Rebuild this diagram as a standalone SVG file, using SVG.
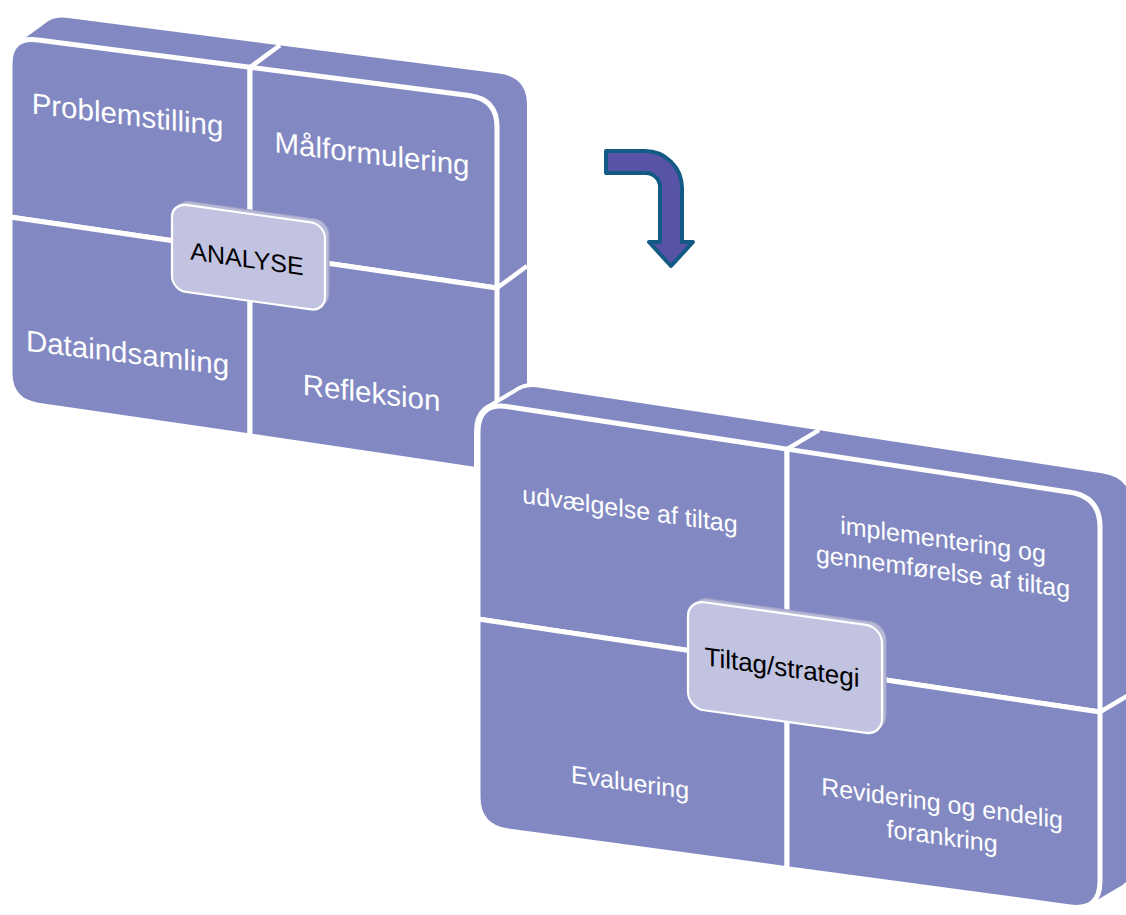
<svg xmlns="http://www.w3.org/2000/svg" xmlns:xlink="http://www.w3.org/1999/xlink" width="1126" height="915" viewBox="0 0 1126 915">
<style>
.ext{fill:#8289C2}
.face{fill:#8289C2;stroke:#fff;stroke-width:5;stroke-linejoin:round}
.div{stroke:#fff;stroke-width:4.5;fill:none}
.halo{fill:#fff;stroke:#fff;stroke-width:8;stroke-linejoin:round}
.lbl{font-family:"Liberation Sans",Arial,sans-serif;fill:#fff;text-anchor:middle}
.l28{font-size:29.5px}
.l25{font-size:25px}
.cback{fill:#B7B9D8;stroke:#9FA1C4;stroke-width:1.2}
.cfront{fill:#C1C3E0;stroke:#fff;stroke-width:2.2}
.ctxt{font-family:"Liberation Sans",Arial,sans-serif;fill:#000;text-anchor:middle}
</style>
<defs>
<path id="lOut" d="M 10,64 Q 10,36.3 38,39.9 L 469,95.5 Q 497,99.1 497,127 L 497,445 Q 497,472.6 469,468.5 L 38,405.1 Q 10,401 10,373 Z"/>
<path id="rOut" d="M 478,432 Q 478,402.2 508,406.7 L 1070,492.2 Q 1100,496.7 1100,527 L 1100,881 Q 1100,911 1070,906.9 L 508,831 Q 478,827 478,797 Z"/>
</defs>

<g id="panel-analyse">
  <g id="analyse-extrusion">
    <use xlink:href="#lOut" href="#lOut" class="ext" transform="translate(30,-22)"/>
    <polygon class="ext" points="18,43.3 48,21.3 519,443.2 489,465.2"/>
    <line class="div" x1="250" y1="67.3" x2="280" y2="45.3"/>
    <line class="div" x1="497" y1="288" x2="527" y2="266"/>
  </g>
  <g id="q-problemstilling">
    <path class="face" d="M 10,64 Q 10,36.3 38,39.9 L 250,67.3 L 250,252 L 10,217 Z"/>
    <g transform="matrix(1,0.12,0,1,127.5,125)"><text class="lbl l28" x="0" y="0">Problemstilling</text></g>
  </g>
  <g id="q-maalformulering">
    <path class="face" d="M 250,67.3 L 469,95.5 Q 497,99.1 497,127 L 497,288 L 250,252 Z"/>
    <g transform="matrix(1,0.12,0,1,372,164)"><text class="lbl l28" x="0" y="0">Målformulering</text></g>
  </g>
  <g id="q-dataindsamling">
    <path class="face" d="M 10,217 L 250,252 L 250,436 L 38,405.1 Q 10,401 10,373 Z"/>
    <g transform="matrix(1,0.12,0,1,127.5,363)"><text class="lbl l28" x="0" y="0">Dataindsamling</text></g>
  </g>
  <g id="q-refleksion">
    <path class="face" d="M 250,252 L 497,288 L 497,445 Q 497,472.6 469,468.5 L 250,436 Z"/>
    <g transform="matrix(1,0.12,0,1,371.5,403)"><text class="lbl l28" x="0" y="0">Refleksion</text></g>
  </g>
  <g id="c-analyse" transform="matrix(1,0.14,0,1,172,203)">
    <rect class="cback" x="4" y="-4" width="153" height="87" rx="14"/>
    <rect class="cfront" x="0" y="0" width="153" height="87" rx="14"/>
    <text class="ctxt" font-size="25" x="75" y="54">ANALYSE</text>
  </g>
</g>

<g id="panel-tiltag">
  <g id="tiltag-extrusion">
    <use xlink:href="#rOut" href="#rOut" class="halo" transform="translate(32,-19)"/>
    <polygon class="halo" points="487.8,409.1 519.8,390.1 1122,885.2 1090,904.2"/>
    <use xlink:href="#rOut" href="#rOut" class="halo"/>
    <use xlink:href="#rOut" href="#rOut" class="ext" transform="translate(32,-19)"/>
    <polygon class="ext" points="487.8,409.1 519.8,390.1 1122,885.2 1090,904.2"/>
    <line class="div" x1="787" y1="449.1" x2="819" y2="430.1"/>
    <line class="div" x1="1100" y1="712" x2="1132" y2="693"/>
  </g>
  <g id="q-udvaelgelse">
    <path class="face" d="M 478,432 Q 478,402.2 508,406.7 L 787,449.1 L 787,665.2 L 478,619 Z"/>
    <g transform="matrix(1,0.14,0,1,630,518)"><text class="lbl l25" x="0" y="0">udvælgelse af tiltag</text></g>
  </g>
  <g id="q-implementering">
    <path class="face" d="M 787,449.1 L 1070,492.2 Q 1100,496.7 1100,527 L 1100,712 L 787,665.2 Z"/>
    <g transform="matrix(1,0.14,0,1,943,548)"><text class="lbl l25" x="0" y="0">implementering og</text><text class="lbl l25" x="0" y="32">gennemførelse af tiltag</text></g>
  </g>
  <g id="q-evaluering">
    <path class="face" d="M 478,619 L 787,665.2 L 787,868.7 L 508,831 Q 478,827 478,797 Z"/>
    <g transform="matrix(1,0.14,0,1,630,791)"><text class="lbl l25" x="0" y="0">Evaluering</text></g>
  </g>
  <g id="q-revidering">
    <path class="face" d="M 787,665.2 L 1100,712 L 1100,881 Q 1100,911 1070,906.9 L 787,868.7 Z"/>
    <g transform="matrix(1,0.14,0,1,942,812)"><text class="lbl l25" x="0" y="0">Revidering og endelig</text><text class="lbl l25" x="0" y="33">forankring</text></g>
  </g>
  <g id="c-tiltag" transform="matrix(1,0.14,0,1,688,600)">
    <rect class="cback" x="4" y="-4" width="194" height="108" rx="16"/>
    <rect class="cfront" x="0" y="0" width="194" height="108" rx="16"/>
    <text class="ctxt" font-size="26" x="94" y="63">Tiltag/strategi</text>
  </g>
</g>

<g id="connectors">
  <path id="arrow-analyse-tiltag" d="M 606,151 L 645,151 A 37 37 0 0 1 682,188 L 682,242 L 693,242 L 671,266 L 649,242 L 660,242 L 660,187 A 14 14 0 0 0 646,173 L 606,173 Z" fill="#5753A6" stroke="#135A84" stroke-width="4" stroke-linejoin="round"/>
</g>
</svg>
